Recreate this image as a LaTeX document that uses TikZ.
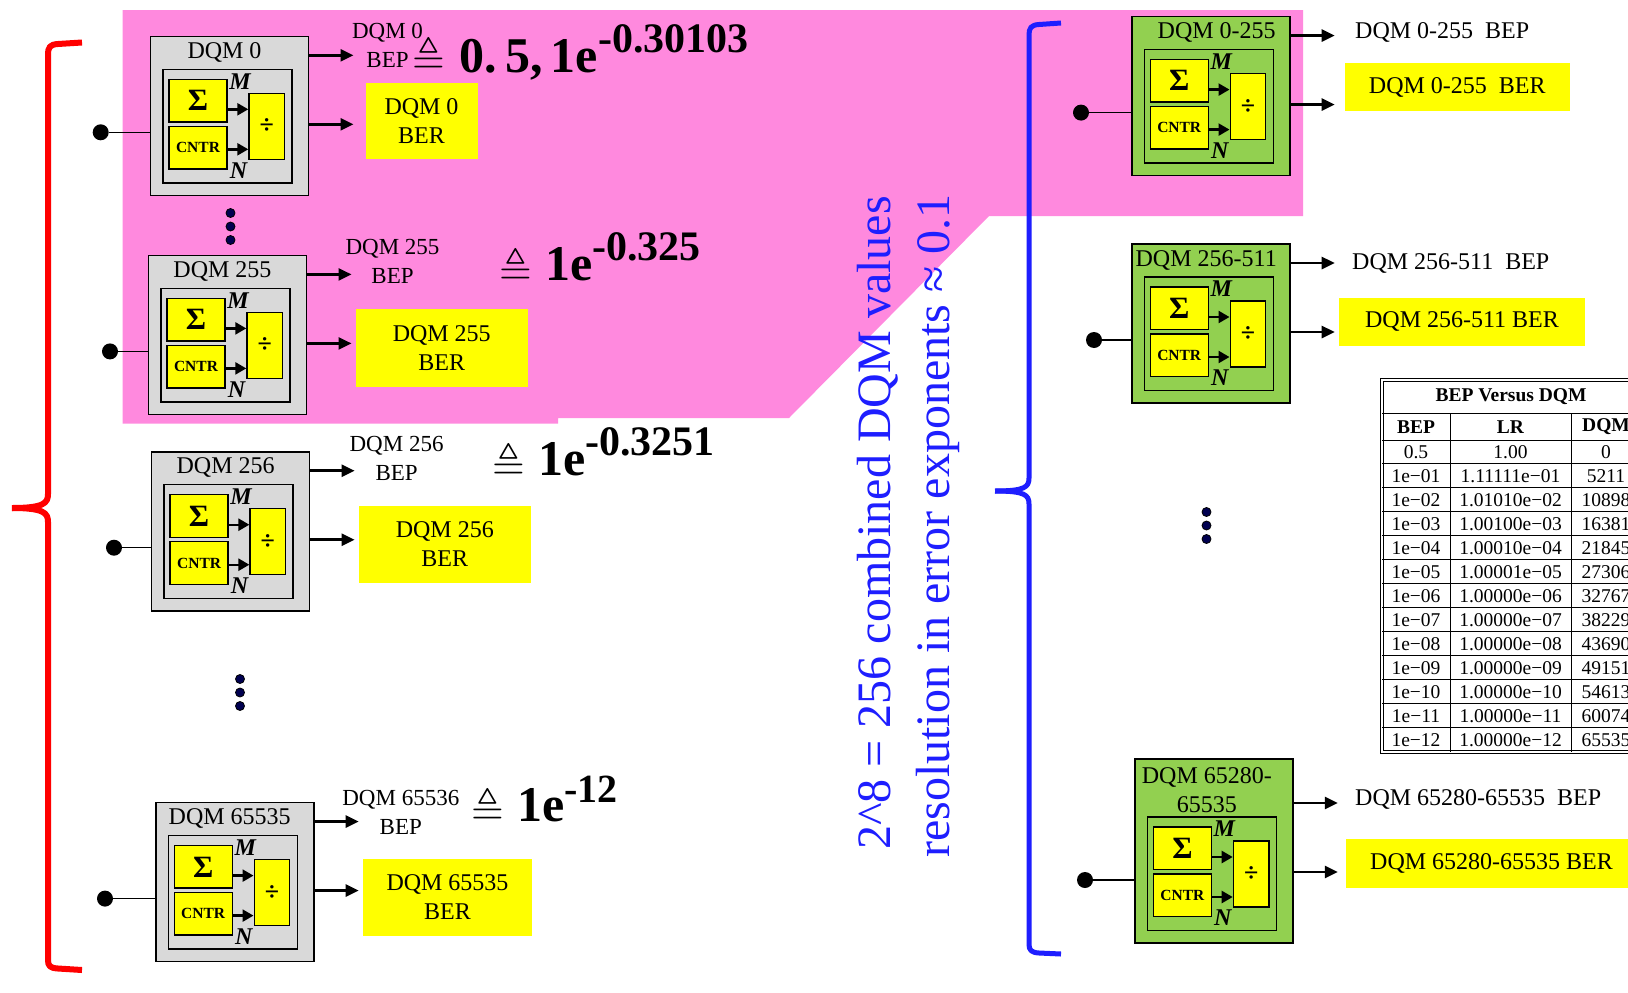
\documentclass[tikz,border=0pt]{standalone}
\usepackage{amssymb}
\usepackage{fontspec}
\setmainfont{Liberation Serif}
\usetikzlibrary{arrows.meta,calc}

\definecolor{pinkbg}{HTML}{FF89DE}
\definecolor{cellgray}{HTML}{D9D9D9}
\definecolor{cellgreen}{HTML}{92D050}
\definecolor{hiyellow}{HTML}{FFFF00}
\definecolor{bracered}{HTML}{FF0000}
\definecolor{braceblue}{HTML}{1E1EFF}
\definecolor{dotnavy}{HTML}{000050}

\newcommand\pxfont[2]{\fontsize{#1}{#2}\selectfont}

\tikzset{
  cellbox/.style={draw=black, line width=1.6pt, inner sep=0pt},
  innerbox/.style={draw=black, line width=1.4pt, inner sep=0pt,
    minimum width=129pt, minimum height=113.5pt},
  opbox/.style={draw=black, line width=1.4pt, fill=hiyellow, inner sep=0pt},
  sumbox/.style={opbox, minimum width=58pt, minimum height=42.5pt, font=\pxfont{31}{31}\bfseries},
  cntrbox/.style={opbox, minimum width=58pt, minimum height=42.5pt, font=\pxfont{15.5}{16}\bfseries},
  divbox/.style={opbox, minimum width=35.5pt, minimum height=66pt, font=\pxfont{26}{26}\bfseries},
  sigtag/.style={font=\pxfont{24}{24}\bfseries\itshape, inner sep=0pt},
  celltitle/.style={font=\pxfont{24}{29}, inner sep=0pt, align=center},
  indot/.style={circle, fill=black, minimum size=16pt, inner sep=0pt},
  vdot/.style={circle, fill=dotnavy, draw=black, line width=0.8pt, minimum size=9pt, inner sep=0pt},
  bigarrow/.style={line width=2.6pt, -{Triangle[length=13pt,width=12pt]}},
  smallarrow/.style={line width=2.4pt, -{Triangle[length=11pt,width=12pt]}},
  wire/.style={line width=1.4pt},
  berbox/.style={fill=hiyellow, inner sep=0pt, font=\pxfont{24}{29}, align=center},
  beplabel/.style={font=\pxfont{23}{29}, align=center, inner sep=0pt},
  beptext/.style={font=\pxfont{24}{29}, anchor=west, inner sep=0pt},
  defeq/.style={font=\pxfont{42}{42}, inner sep=0pt},
  bigval/.style={anchor=base west, inner sep=0pt, font=\pxfont{50}{50}\bfseries},
  bracepath/.style={line width=6pt, line join=round},
  vtext/.style={rotate=90, text=braceblue, font=\pxfont{48}{60}, inner sep=0pt},
  tabrule/.style={line width=1pt},
  tabcell/.style={font=\pxfont{19.5}{20}, inner sep=0pt},
  tabhead/.style={font=\pxfont{19.5}{20}\bfseries, inner sep=0pt},
}

% One measuring cell: #1 name, #2,#3 top-left corner, #4 extra title height,
% #5 fill, #6 title, #7 x of the input dot, #8 horizontal shift of the title
\newcommand\dqmcell[8]{%
  \begin{scope}[shift={(#2,#3)}]
    \node[cellbox, fill=#5, minimum width=158pt, minimum height={(159+#4)*1pt}]
      (#1) at (79,{(159+#4)/2}) {};
    \node[innerbox] (#1-in) at (77,{89.75+#4}) {};
    \node[sumbox] (#1-sum) at (47.5,{64.25+#4}) {Σ};
    \node[cntrbox] (#1-cnt) at (47.5,{111.25+#4}) {CNTR};
    \node[divbox] (#1-div) at (116.25,{90+#4}) {÷};
    \node[sigtag] (#1-m) at (89.5,{45+#4}) {M};
    \node[sigtag] (#1-n) at (88,{134+#4}) {N};
    \coordinate (#1-ma) at (76.5,{73+#4});
    \coordinate (#1-na) at (76.5,{113+#4});
    \draw[smallarrow] (#1-ma) -- (#1-div.west |- #1-ma);
    \draw[smallarrow] (#1-na) -- (#1-div.west |- #1-na);
    \node[celltitle] (#1-t) at ({79+#8},{16+0.6*#4}) {#6};
    \node[indot] (#1-dot) at ({#7-#2},{96+#4}) {};
    \draw[wire] (#1-dot) -- (#1.west |- #1-dot);
    \coordinate (#1-bep) at (203,{19+#4});
    \coordinate (#1-ber) at (203,{88+#4});
    \draw[bigarrow] (#1.east |- #1-bep) -- (#1-bep);
    \draw[bigarrow] (#1.east |- #1-ber) -- (#1-ber);
  \end{scope}}

\begin{document}
\begin{tikzpicture}[x=1pt,y=-1pt]
  \useasboundingbox (0,0) rectangle (1628,993);
  \fill[white] (0,0) rectangle (1628,993);
  \clip (0,0) rectangle (1628,993);

  % highlighted area
  \fill[pinkbg] (122.5,10) -- (1303,10) -- (1303,216) -- (989,216) -- (789,418)
    -- (558,418) -- (558,423.5) -- (122.5,423.5) -- cycle;

  % left column of single DQM cells
  \dqmcell{cA}{150.5}{36.3}{0}{cellgray}{DQM 0}{100.7}{-5}
  \dqmcell{cB}{148.5}{255.4}{0}{cellgray}{DQM 255}{110}{-5}
  \dqmcell{cC}{151.6}{451.7}{0}{cellgray}{DQM 256}{114}{-5}
  \dqmcell{cD}{155.7}{802.6}{0}{cellgray}{DQM 65535}{105}{-5}

  \node[vdot] (dA1) at (230.5,213) {};
  \node[vdot] (dA2) at (230.5,226.5) {};
  \node[vdot] (dA3) at (230.5,240) {};
  \node[vdot] (dB1) at (240,679) {};
  \node[vdot] (dB2) at (240,692.5) {};
  \node[vdot] (dB3) at (240,706) {};

  % BEP labels and values
  \node[beplabel] (lA) at (387.5,45.5) {DQM 0\\BEP};
  \node[beplabel] (lB) at (392.5,261.5) {DQM 255\\BEP};
  \node[beplabel] (lC) at (396.6,458.4) {DQM 256\\BEP};
  \node[beplabel] (lD) at (400.8,812) {DQM 65536\\BEP};

  \node[defeq] (qA) at (429,56) {$\triangleq$};
  \node[defeq] (qB) at (516,267) {$\triangleq$};
  \node[defeq] (qC) at (508.8,462) {$\triangleq$};
  \node[defeq] (qD) at (488,807) {$\triangleq$};

  \node[bigval] (vA) at (459,72.7) {0.\,5,\,1e\raisebox{20pt}{\pxfont{42}{42}-0.30103}};
  \node[bigval] (vB) at (545,280) {1e\raisebox{20pt}{\pxfont{42}{42}-0.325}};
  \node[bigval] (vC) at (537.8,475.5) {1e\raisebox{20pt}{\pxfont{42}{42}-0.3251}};
  \node[bigval] (vD) at (517,821) {1e\raisebox{19pt}{\pxfont{40}{40}-12}};

  % BER outputs
  \node[berbox, minimum width=112pt, minimum height=76pt] (yA) at (421.5,121) {DQM 0\\BER};
  \node[berbox, minimum width=171.5pt, minimum height=78pt] (yB) at (441.75,348.4) {DQM 255\\BER};
  \node[berbox, minimum width=171.6pt, minimum height=77pt] (yC) at (444.8,544) {DQM 256\\BER};
  \node[berbox, minimum width=168.2pt, minimum height=76.8pt] (yD) at (447.5,897.1) {DQM 65535\\BER};

  % right column of combined cells
  \dqmcell{gA}{1131.7}{16.6}{0}{cellgreen}{DQM 0-255}{1081}{6}
  \dqmcell{gB}{1131.7}{244}{0}{cellgreen}{DQM 256-511}{1094}{-4.5}
  \dqmcell{gC}{1134.9}{759}{25}{cellgreen}{DQM 65280-\\65535}{1085}{-7}

  \node[vdot] (dC1) at (1206.5,512) {};
  \node[vdot] (dC2) at (1206.5,525.5) {};
  \node[vdot] (dC3) at (1206.5,539) {};

  \node[beptext] (rA) at (1355,32) {DQM 0-255~~BEP};
  \node[beptext] (rB) at (1352,263.7) {DQM 256-511~~BEP};
  \node[beptext] (rC) at (1355,799.5) {DQM 65280-65535~~BEP};

  \node[berbox, minimum width=225.4pt, minimum height=47.8pt] (zA) at (1457.3,87.2) {DQM 0-255~~BER};
  \node[berbox, minimum width=245.1pt, minimum height=47.7pt] (zB) at (1462,321.9) {DQM 256-511 BER};
  \node[berbox, minimum width=292pt, minimum height=48.8pt] (zC) at (1491.5,863.4) {DQM 65280-65535 BER};

  % braces
  \draw[bracered, bracepath] (82,42.5) -- (58,44) .. controls (50,44.5) and (48,47) .. (48,55)
    -- (48,494) .. controls (48,503) and (44,508) .. (12,508);
  \draw[bracered, bracepath] (12,508) .. controls (44,508) and (48,513) .. (48,522)
    -- (48,960) .. controls (48,966) and (50,968) .. (58,968.5) -- (82,970);
  \draw[braceblue, bracepath, line width=5pt] (1061,23) -- (1039,24.5) .. controls (1031,25) and (1029,28) .. (1029,35)
    -- (1029,478) .. controls (1029,487) and (1025,491) .. (995,491);
  \draw[braceblue, bracepath, line width=5pt] (995,491) .. controls (1025,491) and (1029,495) .. (1029,504)
    -- (1029,944) .. controls (1029,950) and (1031,952.5) .. (1039,953) -- (1061,954);

  % vertical annotation
  \node[vtext] (nA) at (877.4,523) {2\textasciicircum 8 = 256 combined DQM values};
  \node[vtext] (nB) at (937.6,526) {resolution in error exponents ≈ 0.1};

  % BEP versus DQM table
  \draw[line width=0.8pt, double, double distance=2pt] (1382,380) rectangle (1644,751.7);
  \draw[tabrule] (1382,413) -- (1644,413);
  \draw[tabrule] (1382,440) -- (1644,440);
  \foreach \k in {1,...,12}
    \draw[tabrule] (1382,{440+23.98*\k}) -- (1644,{440+23.98*\k});
  \draw[tabrule] (1450,413) -- (1450,751.7);
  \draw[tabrule] (1571,413) -- (1571,751.7);
  \node[tabhead] (tt) at (1511,396.5) {BEP Versus DQM};
  \node[tabhead] (th1) at (1416,427) {BEP};
  \node[tabhead] (th2) at (1510.5,427) {LR};
  \node[tabhead] (th3) at (1606,427) {DQM};
  \foreach \b/\l/\d [count=\i from 0] in {
      0.5/1.00/0,
      1e−01/1.11111e−01/5211,
      1e−02/1.01010e−02/10898,
      1e−03/1.00100e−03/16381,
      1e−04/1.00010e−04/21845,
      1e−05/1.00001e−05/27306,
      1e−06/1.00000e−06/32767,
      1e−07/1.00000e−07/38229,
      1e−08/1.00000e−08/43690,
      1e−09/1.00000e−09/49151,
      1e−10/1.00000e−10/54613,
      1e−11/1.00000e−11/60074,
      1e−12/1.00000e−12/65535} {
    \node[tabcell] (tb\i) at (1416,{440+23.98*(\i+0.5)}) {\b};
    \node[tabcell] (tl\i) at (1510.5,{440+23.98*(\i+0.5)}) {\l};
    \node[tabcell] (td\i) at (1606,{440+23.98*(\i+0.5)}) {\d};
  }
\end{tikzpicture}
\end{document}
